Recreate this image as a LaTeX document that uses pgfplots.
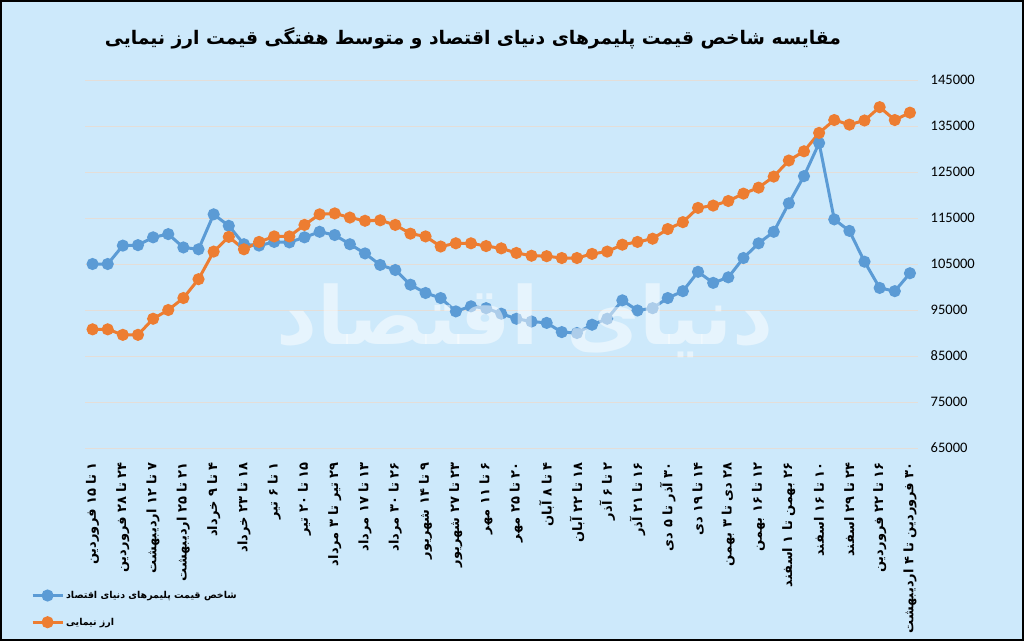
\documentclass[border=0pt]{standalone}
\usepackage{fontspec}
\usepackage{pgfplots}
\usepackage{pgfplotstable}
\pgfplotsset{compat=1.18}
\setmainfont{Carlito}
\newfontfamily\arabicfont[Script=Arabic]{DejaVu Sans}
\TeXXeTstate=1
\definecolor{bgc}{RGB}{205,233,251}
\definecolor{gridc}{RGB}{228,222,216}
\definecolor{blueS}{RGB}{91,155,213}
\definecolor{orangeS}{RGB}{237,125,49}

\pgfplotstableread{
x y
0 105000
1 105000
2 109000
3 109100
4 110800
5 111500
6 108600
7 108200
8 115800
9 113300
10 109300
11 109000
12 109800
13 109700
14 110800
15 112000
16 111300
17 109300
18 107300
19 104800
20 103700
21 100500
22 98700
23 97600
24 94700
25 95800
26 95400
27 94200
28 93100
29 92500
30 92200
31 90200
32 90000
33 91800
34 93100
35 97100
36 94900
37 95400
38 97600
39 99100
40 103300
41 100900
42 102100
43 106300
44 109500
45 112000
46 118200
47 124100
48 131300
49 114700
50 112200
51 105500
52 99800
53 99100
54 103000
}\blueT

\pgfplotstableread{
x y
0 90800
1 90800
2 89600
3 89600
4 93100
5 95000
6 97600
7 101700
8 107700
9 110900
10 108200
11 109800
12 111000
13 111000
14 113500
15 115800
16 116000
17 115100
18 114400
19 114500
20 113500
21 111600
22 111000
23 108800
24 109500
25 109500
26 108900
27 108400
28 107400
29 106800
30 106700
31 106300
32 106300
33 107200
34 107700
35 109200
36 109800
37 110500
38 112600
39 114100
40 117200
41 117700
42 118700
43 120300
44 121600
45 124000
46 127500
47 129500
48 133500
49 136300
50 135300
51 136200
52 139100
53 136300
54 137900
}\orangeT

\begin{document}
\begin{tikzpicture}[x=1pt,y=1pt]
\fill[bgc] (0,0) rectangle (1024,641);
\draw[black,line width=2pt] (1,1) rectangle (1023,640);
\node[font=\arabicfont\bfseries\fontsize{18.7}{22}\selectfont] at (473,603) {\beginR مقایسه شاخص قیمت پلیمرهای دنیای اقتصاد و متوسط هفتگی قیمت ارز نیمایی\endR};
\begin{axis}[
  at={(85pt,193pt)}, anchor=south west,
  scale only axis, width=832.5pt, height=368pt,
  xmin=-0.5, xmax=54.5, ymin=65000, ymax=145000,
  ytick={65000,75000,...,145000},
  yticklabel pos=right,
  scaled y ticks=false,
  yticklabel={\pgfmathprintnumber[assume math mode=true,fixed,precision=0,1000 sep={}]{\tick}},
  yticklabel style={anchor=west, xshift=13pt, inner sep=0pt, font=\fontsize{14.5}{16}\selectfont},
  xtick={0,2,...,54},
  xticklabels={
\mbox{\arabicfont\beginR ۱ تا ۱۵ فروردین\endR},
\mbox{\arabicfont\beginR ۲۴ تا ۲۸ فروردین\endR},
\mbox{\arabicfont\beginR ۷ تا ۱۲ اردیبهشت\endR},
\mbox{\arabicfont\beginR ۲۱ تا ۲۵ اردیبهشت\endR},
\mbox{\arabicfont\beginR ۴ تا ۹ خرداد\endR},
\mbox{\arabicfont\beginR ۱۸ تا ۲۳ خرداد\endR},
\mbox{\arabicfont\beginR ۱ تا ۶ تیر\endR},
\mbox{\arabicfont\beginR ۱۵ تا ۲۰ تیر\endR},
\mbox{\arabicfont\beginR ۲۹ تیر تا ۳ مرداد\endR},
\mbox{\arabicfont\beginR ۱۳ تا ۱۷ مرداد\endR},
\mbox{\arabicfont\beginR ۲۶ تا ۳۰ مرداد\endR},
\mbox{\arabicfont\beginR ۹ تا ۱۴ شهریور\endR},
\mbox{\arabicfont\beginR ۲۳ تا ۲۷ شهریور\endR},
\mbox{\arabicfont\beginR ۶ تا ۱۱ مهر\endR},
\mbox{\arabicfont\beginR ۲۰ تا ۲۵ مهر\endR},
\mbox{\arabicfont\beginR ۴ تا ۸ آبان\endR},
\mbox{\arabicfont\beginR ۱۸ تا ۲۲ آبان\endR},
\mbox{\arabicfont\beginR ۲ تا ۶ آذر\endR},
\mbox{\arabicfont\beginR ۱۶ تا ۲۱ آذر\endR},
\mbox{\arabicfont\beginR ۳۰ آذر تا ۵ دی\endR},
\mbox{\arabicfont\beginR ۱۴ تا ۱۹ دی\endR},
\mbox{\arabicfont\beginR ۲۸ دی تا ۳ بهمن\endR},
\mbox{\arabicfont\beginR ۱۲ تا ۱۶ بهمن\endR},
\mbox{\arabicfont\beginR ۲۶ بهمن تا ۱ اسفند\endR},
\mbox{\arabicfont\beginR ۱۰ تا ۱۶ اسفند\endR},
\mbox{\arabicfont\beginR ۲۴ تا ۲۹ اسفند\endR},
\mbox{\arabicfont\beginR ۱۶ تا ۲۲ فروردین\endR},
\mbox{\arabicfont\beginR ۳۰ فروردین تا ۴ اردیبهشت\endR}},
  xticklabel style={yshift=-14pt, rotate=90, anchor=east, inner sep=0pt, font=\bfseries\fontsize{13}{15}\selectfont},
  major tick length=0pt,
  axis line style={draw=none},
  ymajorgrids, major grid style={gridc, line width=1pt},
  legend style={at={(-0.065,-0.383)}, anchor=north west, draw=none, fill=none,
     font=\arabicfont\bfseries\fontsize{9.5}{11}\selectfont, row sep=14pt, inner sep=0pt,
     legend cell align=left},
  legend image code/.code={\draw[mark repeat=2,mark phase=2,#1] plot coordinates {(0pt,0pt) (15pt,0pt) (30pt,0pt)};},
]
\addplot[blueS, line width=3pt, mark=*, mark size=4.5pt, mark options={solid}] table[x=x,y=y] {\blueT};
\addlegendentry{\mbox{\beginR شاخص قیمت پلیمرهای دنیای اقتصاد\endR}}
\addplot[orangeS, line width=3pt, mark=*, mark size=4.5pt, mark options={solid}] table[x=x,y=y] {\orangeT};
\addlegendentry{\mbox{\beginR ارز نیمایی\endR}}
\end{axis}
\node[white, opacity=0.5, font=\arabicfont\bfseries\fontsize{80}{90}\selectfont] at (525,320) {\beginR دنیای اقتصاد\endR};
\end{tikzpicture}
\end{document}
